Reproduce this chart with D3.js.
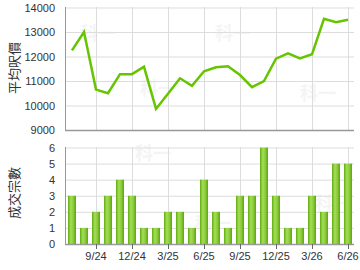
<!DOCTYPE html>
<html>
<head>
<meta charset="utf-8">
<script src="https://cdn.jsdelivr.net/npm/d3@7"></script>
<style>
  html, body { margin: 0; padding: 0; background: #fff; }
  svg { display: block; font-family: Arial, "Liberation Sans", sans-serif; }
</style>
</head>
<body>
<svg id="chart" width="360" height="270"></svg>
<script>
// months from 7/24 to 6/26
const months = ['7/24','8/24','9/24','10/24','11/24','12/24','1/25','2/25','3/25','4/25','5/25','6/25',
                '7/25','8/25','9/25','10/25','11/25','12/25','1/26','2/26','3/26','4/26','5/26','6/26'];
const tickMonths = ['9/24','12/24','3/25','6/25','9/25','12/25','3/26','6/26'];
const avgPrice = [12250, 13000, 10650, 10500, 11280, 11280, 11580, 9860, 10480, 11110, 10800, 11400,
                  11560, 11600, 11245, 10750, 11000, 11910, 12130, 11925, 12090, 13540, 13400, 13500];
const deals = [3, 1, 2, 3, 4, 3, 1, 1, 2, 2, 1, 4, 2, 1, 3, 3, 6, 3, 1, 1, 3, 2, 5, 5];
const priceTicks = [9000, 10000, 11000, 12000, 13000, 14000];
const dealTicks = [0, 1, 2, 3, 4, 5, 6];

const svg = d3.select('#chart');
const GRID = '#dddddd';
const AXIS = '#999999';
const TEXT = '#333333';

const x = d3.scaleBand().domain(months).range([66, 354]).padding(0);
const cx = m => x(m) + x.bandwidth() / 2;

// bar gradient
const grad = svg.append('defs').append('linearGradient')
  .attr('id', 'barGrad').attr('x1', 0).attr('x2', 1).attr('y1', 0).attr('y2', 0);
grad.append('stop').attr('offset', '0%').attr('stop-color', '#5fae0a');
grad.append('stop').attr('offset', '35%').attr('stop-color', '#a6dc5c');
grad.append('stop').attr('offset', '65%').attr('stop-color', '#8ccc3c');
grad.append('stop').attr('offset', '100%').attr('stop-color', '#5aa806');

// watermarks
[[80, 40], [140, 95], [215, 40], [135, 160], [195, 230], [300, 100], [315, 210]].forEach(p => {
  svg.append('text').attr('x', p[0]).attr('y', p[1])
    .attr('font-size', 18).attr('font-weight', 'bold')
    .attr('font-family', '"Noto Sans CJK TC", sans-serif')
    .attr('fill', '#000').attr('opacity', 0.04).text('科一');
});

function panel(yScale, ticks, top, bottom, title, titleY, fmt) {
  const g = svg.append('g');
  // horizontal grid
  g.selectAll('.hg').data(ticks).enter().append('line')
    .attr('x1', 66).attr('x2', 354)
    .attr('y1', d => yScale(d) + 0.5).attr('y2', d => yScale(d) + 0.5)
    .attr('stroke', GRID);
  // vertical grid
  g.selectAll('.vg').data(tickMonths).enter().append('line')
    .attr('x1', d => Math.round(cx(d)) + 0.5).attr('x2', d => Math.round(cx(d)) + 0.5)
    .attr('y1', top).attr('y2', bottom)
    .attr('stroke', GRID);
  // y labels
  g.selectAll('.yl').data(ticks).enter().append('text')
    .attr('x', 55).attr('y', d => yScale(d) + 4)
    .attr('text-anchor', 'end').attr('font-size', 11).attr('fill', TEXT)
    .text(fmt);
  // title
  svg.append('text')
    .attr('transform', `translate(19,${titleY}) rotate(-90)`)
    .attr('text-anchor', 'middle')
    .attr('font-size', 13).attr('fill', TEXT)
    .attr('font-family', '"Noto Sans CJK TC", sans-serif')
    .text(title);
  return g;
}

// ── top panel: average price ─────────────────────────────
const yP = d3.scaleLinear().domain([9000, 14000]).range([130, 7.5]);
panel(yP, priceTicks, 7, 130, '平均呎價', 68, d => d);

svg.append('path')
  .datum(avgPrice)
  .attr('fill', 'none')
  .attr('stroke', '#66c400')
  .attr('stroke-width', 2.5)
  .attr('stroke-linejoin', 'miter')
  .attr('d', d3.line().x((d, i) => cx(months[i])).y(d => yP(d)));

// axes lines
svg.append('line').attr('x1', 65.5).attr('x2', 65.5).attr('y1', 7).attr('y2', 131).attr('stroke', AXIS);
svg.append('line').attr('x1', 65).attr('x2', 354).attr('y1', 130.5).attr('y2', 130.5).attr('stroke', AXIS).attr('stroke-width', 1.5);

// ── bottom panel: deal count ─────────────────────────────
const yD = d3.scaleLinear().domain([0, 6]).range([244, 147.5]);
panel(yD, dealTicks, 147, 244, '成交宗數', 193, d => d);

svg.selectAll('.bar').data(deals).enter().append('rect')
  .attr('x', (d, i) => cx(months[i]) - 4)
  .attr('width', 8)
  .attr('y', d => yD(d))
  .attr('height', d => yD(0) - yD(d))
  .attr('fill', 'url(#barGrad)');

svg.append('line').attr('x1', 65.5).attr('x2', 65.5).attr('y1', 147).attr('y2', 245).attr('stroke', AXIS);
svg.append('line').attr('x1', 65).attr('x2', 354).attr('y1', 244.5).attr('y2', 244.5).attr('stroke', AXIS).attr('stroke-width', 1.5);

// x ticks and labels
svg.selectAll('.xt').data(tickMonths).enter().append('line')
  .attr('x1', d => Math.round(cx(d)) + 0.5).attr('x2', d => Math.round(cx(d)) + 0.5)
  .attr('y1', 244).attr('y2', 249).attr('stroke', '#666');
svg.selectAll('.xl').data(tickMonths).enter().append('text')
  .attr('x', d => cx(d)).attr('y', 260)
  .attr('text-anchor', 'middle').attr('font-size', 11).attr('fill', TEXT)
  .text(d => d);
</script>
</body>
</html>
